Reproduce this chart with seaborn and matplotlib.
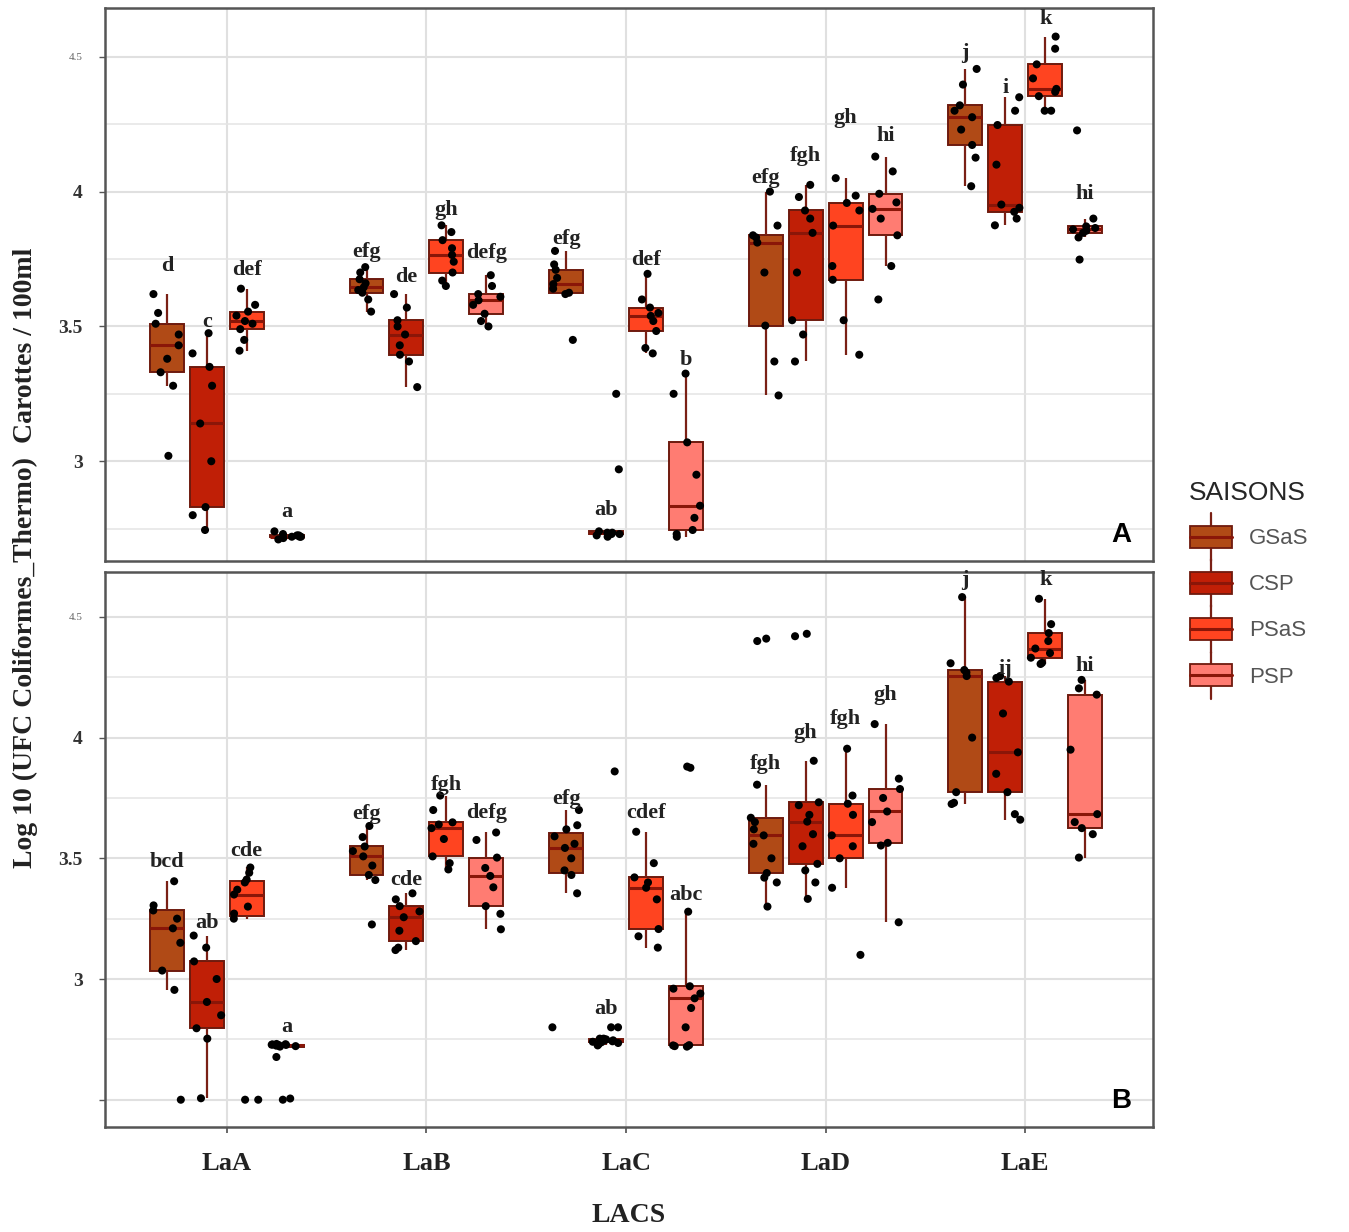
import numpy as np
import pandas as pd
import matplotlib
matplotlib.use("Agg")
import matplotlib.pyplot as plt
import seaborn as sns
from matplotlib.legend_handler import HandlerBase
from matplotlib.patches import Rectangle, Patch
from matplotlib.lines import Line2D
from matplotlib.font_manager import FontProperties

# ---------------- data ----------------
LAKES = ["LaA", "LaB", "LaC", "LaD", "LaE"]
SEASONS = ["GSaS", "CSP", "PSaS", "PSP"]

# Panel A : one list per lake (LaA..LaE) for each season
A_GSAS = [
    [3.02, 3.28, 3.33, 3.38, 3.43, 3.47, 3.51, 3.55, 3.62],
    [3.555, 3.60, 3.625, 3.635, 3.645, 3.66, 3.675, 3.70, 3.72],
    [3.45, 3.62, 3.625, 3.64, 3.657, 3.68, 3.71, 3.73, 3.78],
    [3.244, 3.37, 3.503, 3.70, 3.811, 3.83, 3.838, 3.874, 4.0],
    [4.02, 4.126, 4.173, 4.23, 4.276, 4.30, 4.32, 4.397, 4.455],
]
A_CSP = [
    [2.745, 2.80, 2.83, 3.0, 3.14, 3.28, 3.35, 3.40, 3.475],
    [3.275, 3.37, 3.395, 3.43, 3.47, 3.50, 3.523, 3.57, 3.62],
    [2.72, 2.725, 2.73, 2.73, 2.735, 2.735, 2.74, 2.97, 3.25],
    [3.37, 3.47, 3.523, 3.70, 3.847, 3.90, 3.93, 3.98, 4.025],
    [3.875, 3.90, 3.925, 3.94, 3.952, 4.10, 4.247, 4.30, 4.35],
]
A_PSAS = [
    [3.41, 3.45, 3.49, 3.51, 3.52, 3.54, 3.555, 3.58, 3.64],
    [3.65, 3.67, 3.70, 3.74, 3.765, 3.79, 3.82, 3.85, 3.875],
    [3.40, 3.42, 3.483, 3.52, 3.539, 3.55, 3.57, 3.60, 3.695],
    [3.395, 3.523, 3.673, 3.724, 3.874, 3.93, 3.958, 3.985, 4.05],
    [4.30, 4.30, 4.354, 4.37, 4.381, 4.42, 4.472, 4.53, 4.575],
]
A_PSP = [
    [2.71, 2.715, 2.72, 2.72, 2.72, 2.725, 2.725, 2.73, 2.74],
    [3.50, 3.52, 3.547, 3.58, 3.597, 3.61, 3.62, 3.65, 3.69],
    [2.72, 2.73, 2.745, 2.79, 2.835, 2.95, 3.07, 3.25, 3.325],
    [3.60, 3.724, 3.838, 3.90, 3.936, 3.96, 3.992, 4.075, 4.13],
    [3.748, 3.83, 3.847, 3.855, 3.86, 3.865, 3.871, 3.90, 4.227],
]

# Panel B
B_GSAS = [
    [2.50, 2.955, 3.035, 3.15, 3.21, 3.25, 3.284, 3.305, 3.405],
    [3.226, 3.41, 3.431, 3.47, 3.508, 3.53, 3.549, 3.588, 3.634],
    [2.80, 3.355, 3.431, 3.45, 3.50, 3.543, 3.56, 3.591, 3.62, 3.637, 3.70],
    [3.30, 3.40, 3.42, 3.439, 3.50, 3.56, 3.595, 3.62, 3.65, 3.668, 3.805, 4.40, 4.41],
    [3.725, 3.73, 3.774, 4.0, 4.255, 4.27, 4.28, 4.308, 4.582],
]
B_CSP = [
    [2.506, 2.753, 2.796, 2.85, 2.905, 3.0, 3.073, 3.13, 3.18],
    [3.12, 3.13, 3.157, 3.2, 3.256, 3.28, 3.302, 3.33, 3.355],
    [2.725, 2.73, 2.735, 2.738, 2.74, 2.742, 2.744, 2.746, 2.748, 2.75, 2.753, 2.753, 2.80, 2.80, 3.86],
    [3.332, 3.40, 3.45, 3.477, 3.55, 3.60, 3.652, 3.68, 3.72, 3.732, 3.904, 4.42, 4.43],
    [3.66, 3.683, 3.774, 3.85, 3.939, 4.10, 4.232, 4.247, 4.255],
]
B_PSAS = [
    [2.50, 2.50, 3.25, 3.271, 3.30, 3.35, 3.37, 3.40, 3.412, 3.44, 3.462],
    [3.454, 3.48, 3.508, 3.58, 3.625, 3.64, 3.649, 3.70, 3.76],
    [3.13, 3.177, 3.207, 3.33, 3.378, 3.40, 3.421, 3.48, 3.61],
    [3.10, 3.378, 3.50, 3.55, 3.595, 3.68, 3.726, 3.76, 3.954],
    [4.305, 4.31, 4.331, 4.35, 4.369, 4.40, 4.433, 4.47, 4.575],
]
B_PSP = [
    [2.50, 2.505, 2.677, 2.72, 2.722, 2.724, 2.725, 2.726, 2.727, 2.728, 2.729, 2.73, 2.731],
    [3.206, 3.27, 3.302, 3.38, 3.427, 3.46, 3.503, 3.576, 3.607],
    [2.72, 2.722, 2.725, 2.726, 2.80, 2.88, 2.92, 2.94, 2.96, 2.97, 3.279, 3.875, 3.88],
    [3.235, 3.553, 3.564, 3.65, 3.694, 3.75, 3.787, 3.83, 4.056],
    [3.503, 3.60, 3.625, 3.65, 3.683, 3.95, 4.178, 4.204, 4.239],
]

# significance letters (rows = seasons, cols = lakes) and their heights
A_LETTERS = [["d", "efg", "efg", "efg", "j"],
             ["c", "de", "ab", "fgh", "i"],
             ["def", "gh", "def", "gh", "k"],
             ["a", "defg", "b", "hi", "hi"]]
A_LETTER_Y = [[3.724, 3.777, 3.824, 4.052, 4.515],
              [3.516, 3.684, 2.82, 4.133, 4.383],
              [3.71, 3.93, 3.748, 4.273, 4.642],
              [2.81, 3.771, 3.375, 4.206, 3.99]]
B_LETTERS = [["bcd", "efg", "efg", "fgh", "j"],
             ["ab", "cde", "ab", "gh", "ij"],
             ["cde", "fgh", "cdef", "fgh", "k"],
             ["a", "defg", "abc", "gh", "hi"]]
B_LETTER_Y = [[3.485, 3.683, 3.744, 3.889, 4.651],
              [3.233, 3.409, 2.875, 4.018, 4.285],
              [3.53, 3.805, 3.686, 4.076, 4.651],
              [2.80, 3.686, 3.35, 4.178, 4.296]]

YTICKS_A = [3.0, 3.5, 4.0, 4.5]
YTICKS_B = [2.5, 3.0, 3.5, 4.0, 4.5]
YTICKLABELS_A = ["3", "3.5", "4", "4.5"]
YTICKLABELS_B = ["", "3", "3.5", "4", "4.5"]
MINOR_A = [2.75, 3.25, 3.75, 4.25]
MINOR_B = [2.75, 3.25, 3.75, 4.25]

PALETTE = {"GSaS": "#B04A16", "CSP": "#C01F06", "PSaS": "#FF4420", "PSP": "#FF7C72"}
EDGE = "#6E1A0E"
MED = "#8A1608"
WHISK = "#7A2015"

# ---------------- figure ----------------
sns.set_theme(style="white")
plt.rcParams['font.family'] = ['Liberation Serif', 'DejaVu Serif']
np.random.seed(3)

W, H = 1349, 1232
fig = plt.figure(figsize=(W / 100, H / 100), dpi=100)
axA = fig.add_axes([105 / W, 1 - 561 / H, 1048 / W, 553 / H])
axB = fig.add_axes([105 / W, 1 - 1127 / H, 1048 / W, 555 / H])


def long_df(gs, csp, psas, psp):
    rows = []
    for season, arr in zip(SEASONS, [gs, csp, psas, psp]):
        for lake, vals in zip(LAKES, arr):
            for v in vals:
                rows.append((lake, season, v))
    return pd.DataFrame(rows, columns=["lake", "season", "value"])


def draw_panel(ax, df, letters, letter_y, ylim, yticks, yticklabels, minor, tag):
    sns.boxplot(data=df, x="lake", y="value", hue="season", order=LAKES,
                hue_order=SEASONS, palette=PALETTE, saturation=1, width=0.8,
                gap=0.15, showfliers=False, showcaps=False, linecolor=EDGE,
                linewidth=1.4, medianprops=dict(color=MED, linewidth=2.2),
                whiskerprops=dict(color=WHISK, linewidth=1.6),
                legend=False, ax=ax)
    sns.stripplot(data=df, x="lake", y="value", hue="season", order=LAKES,
                  hue_order=SEASONS, palette={s: "black" for s in SEASONS},
                  dodge=True, jitter=0.3, size=5.8, linewidth=0,
                  legend=False, ax=ax, zorder=4)
    for si in range(4):
        for li in range(5):
            x = li + (si - 1.5) * 0.2
            ax.text(x, letter_y[si][li], letters[si][li], ha="center",
                    va="center", fontsize=16, fontweight="bold",
                    family="Liberation Serif", color="#222222", zorder=5)
    ax.set_xlim(-0.61, 4.64)
    ax.set_ylim(*ylim)
    ax.set_yticks(yticks)
    ax.set_yticklabels(yticklabels)
    ax.set_yticks(minor, minor=True)
    ax.set_axisbelow(True)
    ax.grid(True, which="major", color="#e0e0e0", linewidth=1.5)
    ax.grid(True, which="minor", axis="y", color="#e4e4e4", linewidth=1.1)
    ax.tick_params(axis="y", which="minor", length=0)
    ax.tick_params(axis="y", which="major", length=4, width=1, color="#555555",
                   direction="out", left=True, pad=12)
    for lab in ax.get_yticklabels():
        lab.set_fontweight("bold")
        lab.set_fontsize(14)
        lab.set_color("#333333")
        if lab.get_text() == "4.5":
            lab.set_fontsize(8)
            lab.set_fontweight("normal")
            lab.set_color("#666666")
    for sp in ax.spines.values():
        sp.set_visible(True)
        sp.set_color("#555555")
        sp.set_linewidth(1.8)
    ax.set_xlabel("")
    ax.set_ylabel("")
    ax.text(0.9695, 0.047, tag, transform=ax.transAxes, ha="center", va="center",
            fontsize=20, fontweight="bold", family="Liberation Sans", color="black")


dfA = long_df(A_GSAS, A_CSP, A_PSAS, A_PSP)
dfB = long_df(B_GSAS, B_CSP, B_PSAS, B_PSP)

draw_panel(axA, dfA, A_LETTERS, A_LETTER_Y, (2.63, 4.681), YTICKS_A,
           YTICKLABELS_A, MINOR_A, "A")
draw_panel(axB, dfB, B_LETTERS, B_LETTER_Y, (2.387, 4.686), YTICKS_B,
           YTICKLABELS_B, MINOR_B, "B")

axA.tick_params(axis="x", which="both", bottom=False, labelbottom=False)
axB.tick_params(axis="x", which="major", bottom=True, length=4, color="#555555", pad=14)
for lab in axB.get_xticklabels():
    lab.set_fontweight("bold")
    lab.set_fontsize(19)
    lab.set_color("#222222")
axB.set_xlabel("LACS", fontsize=20, fontweight="bold", labelpad=20, color="#222222")

fig.text(25 / W, 1 - 558 / H, "Log 10 (UFC Coliformes_Thermo)  Carottes / 100ml",
         rotation=90, ha="center", va="center", fontsize=20, fontweight="bold",
         color="#222222")


# ---------------- legend ----------------
class BoxHandler(HandlerBase):
    def create_artists(self, legend, orig_handle, xdescent, ydescent, width,
                       height, fontsize, trans):
        fc = orig_handle.get_facecolor()
        x0, y0 = -xdescent, -ydescent
        bw = width * 0.95
        bx = x0 + (width - bw) / 2
        cx = x0 + width / 2
        l1 = Line2D([cx, cx], [y0 - 0.35 * height, y0 + 0.1 * height],
                    color=WHISK, lw=1.6, transform=trans)
        l2 = Line2D([cx, cx], [y0 + 0.9 * height, y0 + 1.35 * height],
                    color=WHISK, lw=1.6, transform=trans)
        r = Rectangle((bx, y0 + 0.1 * height), bw, 0.8 * height, facecolor=fc,
                      edgecolor=EDGE, lw=1.3, transform=trans)
        m = Line2D([bx, bx + bw], [y0 + 0.5 * height] * 2, color=MED, lw=2.2,
                   transform=trans)
        return [l1, l2, r, m]


handles = [Patch(facecolor=PALETTE[s]) for s in SEASONS]
leg = fig.legend(handles=handles, labels=SEASONS, handler_map={Patch: BoxHandler()},
                 title="SAISONS", loc="upper left",
                 bbox_to_anchor=(1180 / W, 1 - 472 / H), frameon=False,
                 prop=FontProperties(family="Liberation Sans", size=16),
                 title_fontproperties=FontProperties(family="Liberation Sans", size=19),
                 handlelength=2.0, handleheight=1.55, labelspacing=0.82,
                 handletextpad=0.7, alignment="left", borderaxespad=0)
for t in leg.get_texts():
    t.set_color("#555555")

fig.savefig("out.png", dpi=100)
